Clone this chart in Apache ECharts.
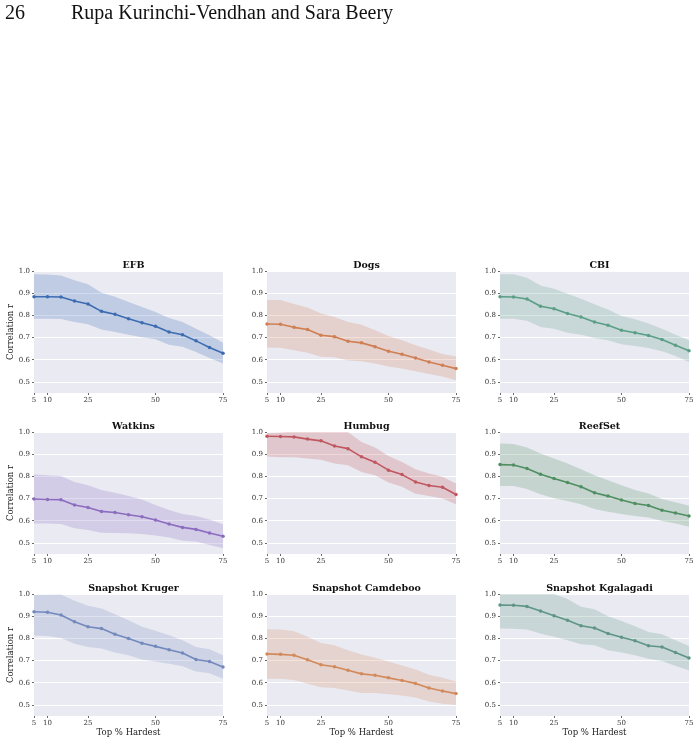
<!DOCTYPE html>
<html><head><meta charset="utf-8">
<script src="https://cdn.jsdelivr.net/npm/echarts@6/dist/echarts.min.js"></script>
<style>html,body{margin:0;padding:0;background:#fff}#c{width:699px;height:743px}</style>
</head><body><div id="c"></div>
<script>
const xValues = [5,10,15,20,25,30,35,40,45,50,55,60,65,70,75];
const xTicks = [5,10,25,50,75];
const yTicks = [0.5,0.6,0.7,0.8,0.9,1.0];
const datasetNames = ['EFB','Dogs','CBI','Watkins','Humbug','ReefSet','Snapshot Kruger','Snapshot Camdeboo','Snapshot Kgalagadi'];
const datasetColors = ['#3b6cb2','#cf7f52','#5a9e86','#8c6cbf','#c0575e','#4f8e60','#7389bd','#d2895b','#5e9584'];

const efbMean  = [0.884,0.884,0.883,0.865,0.851,0.818,0.805,0.785,0.767,0.751,0.725,0.713,0.685,0.655,0.629];
const efbUpper = [0.985,0.984,0.980,0.958,0.940,0.902,0.884,0.860,0.838,0.815,0.788,0.770,0.740,0.710,0.677];
const efbLower = [0.785,0.785,0.784,0.770,0.760,0.736,0.725,0.713,0.701,0.692,0.668,0.658,0.635,0.608,0.583];

const dogsMean  = [0.761,0.760,0.746,0.736,0.710,0.704,0.683,0.676,0.659,0.638,0.625,0.608,0.590,0.575,0.560];
const dogsUpper = [0.869,0.869,0.851,0.836,0.808,0.793,0.770,0.758,0.733,0.707,0.688,0.665,0.646,0.626,0.614];
const dogsLower = [0.655,0.654,0.643,0.632,0.613,0.611,0.596,0.593,0.583,0.569,0.560,0.548,0.536,0.524,0.507];

const cbiMean  = [0.884,0.883,0.874,0.841,0.830,0.808,0.793,0.770,0.755,0.733,0.722,0.709,0.691,0.665,0.640];
const cbiUpper = [0.985,0.985,0.970,0.935,0.920,0.898,0.875,0.850,0.826,0.797,0.782,0.763,0.740,0.713,0.688];
const cbiLower = [0.785,0.785,0.776,0.748,0.740,0.722,0.713,0.698,0.688,0.670,0.662,0.653,0.638,0.617,0.590];

const watkinsMean  = [0.698,0.696,0.695,0.671,0.660,0.642,0.637,0.627,0.618,0.603,0.585,0.570,0.561,0.545,0.530];
const watkinsUpper = [0.808,0.805,0.802,0.775,0.760,0.738,0.726,0.711,0.696,0.671,0.648,0.630,0.621,0.606,0.584];
const watkinsLower = [0.587,0.587,0.585,0.566,0.558,0.546,0.545,0.543,0.540,0.533,0.524,0.510,0.506,0.491,0.476];

const humbugMean  = [0.981,0.980,0.978,0.968,0.960,0.937,0.925,0.888,0.864,0.828,0.808,0.775,0.759,0.751,0.718];
const humbugUpper = [0.996,0.998,1.002,1.008,1.012,1.012,1.000,0.955,0.930,0.892,0.865,0.832,0.813,0.798,0.768];
const humbugLower = [0.889,0.886,0.886,0.880,0.875,0.858,0.850,0.820,0.805,0.772,0.753,0.722,0.711,0.700,0.674];

const reefMean  = [0.853,0.851,0.835,0.810,0.790,0.772,0.753,0.726,0.711,0.693,0.678,0.669,0.647,0.635,0.621];
const reefUpper = [0.948,0.946,0.930,0.903,0.880,0.858,0.832,0.805,0.783,0.760,0.738,0.723,0.698,0.683,0.668];
const reefLower = [0.757,0.757,0.743,0.719,0.701,0.689,0.674,0.653,0.641,0.630,0.621,0.615,0.599,0.588,0.573];

const krugerMean  = [0.920,0.918,0.905,0.875,0.852,0.844,0.819,0.799,0.778,0.764,0.749,0.734,0.705,0.696,0.671];
const krugerUpper = [0.996,0.997,0.998,0.970,0.947,0.935,0.909,0.882,0.852,0.834,0.814,0.792,0.761,0.751,0.724];
const krugerLower = [0.813,0.811,0.802,0.776,0.761,0.754,0.736,0.724,0.705,0.696,0.686,0.674,0.651,0.643,0.618];

const camdebooMean  = [0.730,0.728,0.724,0.704,0.681,0.672,0.656,0.640,0.634,0.622,0.610,0.597,0.576,0.563,0.551];
const camdebooUpper = [0.841,0.840,0.832,0.807,0.779,0.769,0.746,0.727,0.713,0.696,0.678,0.660,0.636,0.622,0.606];
const camdebooLower = [0.618,0.618,0.612,0.595,0.580,0.576,0.565,0.554,0.554,0.548,0.542,0.533,0.515,0.505,0.500];

const kgalagadiMean  = [0.950,0.949,0.944,0.923,0.902,0.882,0.857,0.847,0.822,0.805,0.789,0.767,0.761,0.736,0.711];
const kgalagadiUpper = [1.050,1.050,1.045,1.025,1.000,0.977,0.943,0.931,0.900,0.878,0.855,0.829,0.819,0.792,0.766];
const kgalagadiLower = [0.844,0.843,0.840,0.822,0.807,0.792,0.773,0.769,0.746,0.736,0.724,0.708,0.698,0.675,0.656];

const means  = [efbMean,dogsMean,cbiMean,watkinsMean,humbugMean,reefMean,krugerMean,camdebooMean,kgalagadiMean];
const uppers = [efbUpper,dogsUpper,cbiUpper,watkinsUpper,humbugUpper,reefUpper,krugerUpper,camdebooUpper,kgalagadiUpper];
const lowers = [efbLower,dogsLower,cbiLower,watkinsLower,humbugLower,reefLower,krugerLower,camdebooLower,kgalagadiLower];

const colLefts = [34, 267, 500];
const rowTops = [271, 432, 594];
const gw = 189, gh = 122;
const serif = '"DejaVu Serif", serif';

function bandRenderer(color) {
  return function (params, api) {
    if (params.dataIndex !== 0) return null;
    const n = params.dataInsideLength;
    const pts = [];
    for (let k = 0; k < n; k++) pts.push(api.coord([api.value(0, k), api.value(2, k)]));
    for (let k = n - 1; k >= 0; k--) pts.push(api.coord([api.value(0, k), api.value(1, k)]));
    const cs = params.coordSys;
    return {
      type: 'polygon',
      shape: {points: pts},
      style: {fill: color, opacity: 0.24},
      clipPath: {type: 'rect', shape: {x: cs.x, y: cs.y, width: cs.width, height: cs.height}},
      silent: true
    };
  };
}

const grids = [], xAxes = [], yAxes = [], series = [], titles = [];
for (let i = 0; i < 9; i++) {
  const r = Math.floor(i / 3), c = i % 3;
  grids.push({left: colLefts[c], top: rowTops[r], width: gw, height: gh, show: true, backgroundColor: '#EAEAF2', borderWidth: 0});
  titles.push({text: datasetNames[i], left: colLefts[c] + gw / 2, top: rowTops[r] - 15, textAlign: 'center',
    textStyle: {fontFamily: serif, fontWeight: 'bold', fontSize: 9.5, color: '#111'}});
  xAxes.push({type: 'value', gridIndex: i, min: 5, max: 75,
    name: r === 2 ? 'Top % Hardest' : '', nameLocation: 'middle', nameGap: 12,
    nameTextStyle: {fontFamily: serif, fontSize: 8.5, color: '#222'},
    axisLine: {show: false}, splitLine: {show: false},
    axisTick: {show: true, customValues: xTicks, length: 2, lineStyle: {color: '#444', width: 0.8}},
    axisLabel: {customValues: xTicks, fontFamily: serif, fontSize: 7, color: '#333', margin: 4}});
  yAxes.push({type: 'value', gridIndex: i, min: 0.45, max: 1.0,
    name: c === 0 ? 'Correlation r' : '', nameLocation: 'middle', nameGap: 17,
    nameTextStyle: {fontFamily: serif, fontSize: 8.5, color: '#222'},
    axisLine: {show: false},
    axisTick: {show: true, customValues: yTicks, length: 2, lineStyle: {color: '#444', width: 0.8}},
    axisLabel: {customValues: yTicks, fontFamily: serif, fontSize: 7, color: '#333', margin: 4,
      formatter: v => v.toFixed(1)},
    splitLine: {show: true, lineStyle: {color: '#ffffff', width: 1.2}}});
  const bandData = xValues.map((x, k) => [x, lowers[i][k], uppers[i][k]]);
  const mean = xValues.map((x, k) => [x, means[i][k]]);
  series.push({type: 'custom', xAxisIndex: i, yAxisIndex: i, data: bandData,
    encode: {x: 0, y: [1, 2]}, renderItem: bandRenderer(datasetColors[i]), silent: true, z: 2});
  series.push({type: 'line', xAxisIndex: i, yAxisIndex: i, data: mean, symbol: 'circle', symbolSize: 3.5,
    itemStyle: {color: datasetColors[i]}, lineStyle: {color: datasetColors[i], width: 1.6}, z: 3});
}

const chart = echarts.init(document.getElementById('c'), null, {renderer: 'canvas'});
chart.setOption({
  animation: false,
  backgroundColor: '#ffffff',
  title: titles,
  grid: grids, xAxis: xAxes, yAxis: yAxes, series: series,
  graphic: [
    {type: 'text', left: 5, top: 4, style: {text: '26', font: '20px "Liberation Serif", serif', fill: '#111'}},
    {type: 'text', left: 71, top: 4, style: {text: 'Rupa Kurinchi-Vendhan and Sara Beery', font: '20px "Liberation Serif", serif', fill: '#111'}}
  ]
});
</script></body></html>
